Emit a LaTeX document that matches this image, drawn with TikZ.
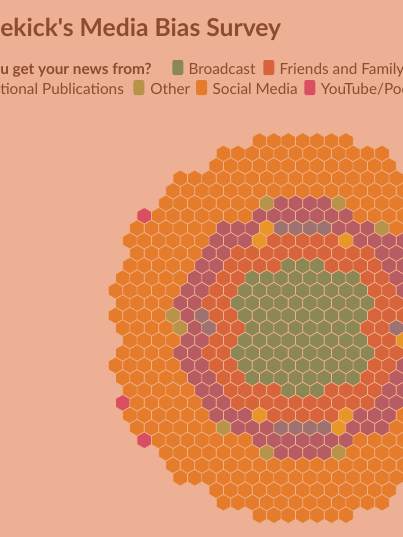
\documentclass[tikz,border=0pt]{standalone}
\usepackage{fontspec}
\setmainfont{Lato}[Ligatures=TeXOff]
\usetikzlibrary{positioning}

\definecolor{bgsalmon}{HTML}{EDB094}
\definecolor{titlebrown}{HTML}{8E4B2E}
\definecolor{hexline}{HTML}{F0B088}
\definecolor{hexO}{HTML}{E57C2C}
\definecolor{hexF}{HTML}{D8643C}
\definecolor{hexP}{HTML}{B85C64}
\definecolor{hexG}{HTML}{8C8856}
\definecolor{hexT}{HTML}{B8944A}
\definecolor{hexM}{HTML}{9E7270}
\definecolor{hexY}{HTML}{E99628}
\definecolor{hexB}{HTML}{DA4E62}

\begin{document}
\begin{tikzpicture}[x=0.75pt, y=-0.75pt,
    hexcell/.style={draw=hexline, line width=0.5pt, line join=round},
    swatch/.style={rectangle, rounded corners=1.5pt, minimum width=8.25pt, minimum height=11.25pt, inner sep=0pt},
    legtext/.style={anchor=base west, inner sep=0pt, text=titlebrown, font=\fontsize{11.5}{14}\selectfont}]

    % Background
    \useasboundingbox (0,0) rectangle (403,537);
    \fill[bgsalmon] (0,0) rectangle (403,537);
    \clip (0,0) rectangle (403,537);

    % Title
    \node[anchor=base west, inner sep=0pt, text=titlebrown, font=\bfseries\fontsize{18.5}{22}\selectfont] (title) at (0,36) {ekick's Media Bias Survey};

    % Legend
    \node[legtext, font=\bfseries\fontsize{11.5}{14}\selectfont] (question) at (0,74) {u get your news from?};
    \node[swatch, fill=hexG] (swG) at (177.8,67.5) {};
    \node[legtext] (labG) at (188.3,74) {Broadcast};
    \node[swatch, fill=hexF] (swF) at (268.8,67.5) {};
    \node[legtext] (labF) at (279.3,74) {Friends and Family};
    \node[legtext] (labN) at (0,94) {tional Publications};
    \node[swatch, fill=hexT] (swT) at (138.8,87.5) {};
    \node[legtext] (labT) at (150,94) {Other};
    \node[swatch, fill=hexO] (swO) at (201.6,87.5) {};
    \node[legtext] (labO) at (212.3,94) {Social Media};
    \node[swatch, fill=hexB] (swB) at (309.8,87.5) {};
    \node[legtext] (labB) at (320.7,94) {YouTube/Pod};

    % Hex cells: row / first column / colours
    \foreach \r/\q/\cells in {
        0/-6/{O,O,O,O,O,O,O},
        1/-11/{O,O,O,O,O,O,O,O,O,O,O,O},
        2/-12/{O,O,O,O,O,O,O,O,O,O,O,O,O},
        3/-17/{O,O,O,O,O,O,O,O,O,O,O,O,O,O,O,O},
        4/-18/{O,O,O,O,O,O,O,O,O,O,O,O,O,O,O,O,O},
        5/-19/{O,O,O,O,O,O,O,T,P,P,P,P,T,O,O,O,O},
        6/-22/{B,O,O,O,O,O,O,O,P,P,P,P,P,P,P,O,O,O,O},
        7/-23/{O,O,O,O,O,O,P,P,P,Y,M,M,M,M,P,P,P,T,O},
        8/-24/{O,O,O,O,O,O,P,P,P,Y,F,F,F,F,F,Y,P,P,P,P},
        9/-23/{O,O,O,O,O,P,P,F,F,F,F,F,F,F,F,F,F,P,P},
        10/-24/{O,O,O,O,O,P,P,F,F,F,F,G,G,G,F,F,F,F,P,P},
        11/-25/{O,O,O,O,O,P,P,F,F,G,G,G,G,G,G,G,G,F,F,P},
        12/-26/{O,O,O,O,O,P,P,F,F,G,G,G,G,G,G,G,G,G,F,F,P},
        13/-25/{O,O,O,O,P,P,F,F,G,G,G,G,G,G,G,G,G,G,F,F},
        14/-26/{O,O,O,O,T,P,M,F,F,G,G,G,G,G,G,G,G,G,F,F,F},
        15/-25/{O,O,O,O,T,P,M,F,F,G,G,G,G,G,G,G,G,F,F,M},
        16/-24/{O,O,O,O,P,P,F,F,G,G,G,G,G,G,G,G,G,F,F,Y},
        17/-25/{O,O,O,O,P,P,F,F,G,G,G,G,G,G,G,G,G,G,F,F},
        18/-26/{O,O,O,O,O,P,P,F,F,G,G,G,G,G,G,G,G,G,F,F,P},
        19/-25/{O,O,O,O,O,P,P,F,F,G,G,G,G,G,G,G,G,F,F,P},
        20/-24/{O,O,O,O,O,P,P,F,F,F,F,G,G,G,F,F,F,F,P,P},
        21/-25/{B,O,O,O,O,O,P,P,F,F,F,F,F,F,F,F,F,F,P,P},
        22/-24/{O,O,O,O,O,O,P,P,P,Y,F,F,F,F,F,Y,P,P,P,O},
        23/-23/{O,O,O,O,O,O,T,P,P,P,M,M,M,M,Y,P,P,P,O},
        24/-22/{B,O,O,O,O,O,O,O,P,P,P,P,P,P,P,O,O,O,O},
        25/-19/{O,O,O,O,O,O,O,T,P,P,P,P,T,O,O,O,O},
        26/-18/{O,O,O,O,O,O,O,O,O,O,O,O,O,O,O,O,O},
        27/-17/{O,O,O,O,O,O,O,O,O,O,O,O,O,O,O,O},
        28/-12/{O,O,O,O,O,O,O,O,O,O,O,O,O},
        29/-11/{O,O,O,O,O,O,O,O,O,O,O,O},
        30/-6/{O,O,O,O,O,O,O}}{
        \foreach \cl [count=\k from 0] in \cells {
            \pgfmathsetmacro\hx{302.7+7.2*(\q+2*\k)}
            \pgfmathsetmacro\hy{141+12.47*\r}
            \filldraw[hexcell, fill=hex\cl] (\hx,\hy) ++(0,-8.31) -- ++(7.2,4.155) -- ++(0,8.31) -- ++(-7.2,4.155) -- ++(-7.2,-4.155) -- ++(0,-8.31) -- cycle;
        }
    }
\end{tikzpicture}
\end{document}
